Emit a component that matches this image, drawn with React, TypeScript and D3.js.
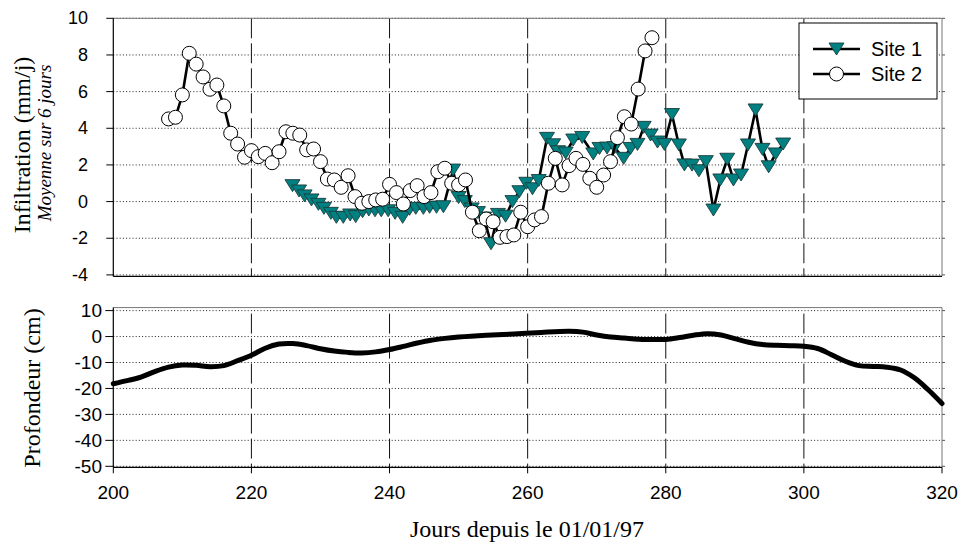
import React from "react";
import * as d3 from "d3";

// ---------- data ----------
const site1Days = [
  225.95, 226.9, 227.7, 228.7, 229.7, 230.5, 231.5, 232.3, 233.3, 234.3, 235.1, 236.1,
  237.0, 237.9, 238.8, 239.8, 240.8, 241.9, 242.9, 243.8, 244.9, 245.8, 246.8, 247.8,
  249.2, 250.0, 250.9, 251.9, 252.8, 253.7, 254.7, 255.7, 256.8, 257.8, 258.8, 259.8,
  260.7, 261.6, 262.8, 263.7, 264.4, 265.5, 266.6, 267.9, 269.5, 270.4, 271.5, 272.6,
  273.9, 274.9, 275.9, 276.8, 277.8, 278.8, 279.8, 280.9, 281.9, 282.7, 283.8, 284.8,
  285.8, 286.9, 287.9, 288.9, 289.8, 290.9, 291.9, 293.0, 294.0, 294.9, 295.9, 297.0,
];
const site1Values = [
  0.87, 0.58, 0.31, 0.09, -0.15, -0.37, -0.64, -0.86, -0.86, -0.73, -0.82, -0.55,
  -0.46, -0.5, -0.5, -0.5, -0.64, -0.86, -0.42, -0.37, -0.37, -0.31, -0.31, -0.28,
  1.72, 0.22, 0.0, -0.4, -0.6, -0.9, -2.3, -0.7, -0.8, 0.0, 0.54, 1.0,
  0.7, 1.15, 3.45, 3.1, 2.72, 2.65, 3.36, 3.5, 2.6, 2.9, 2.92, 2.95,
  2.36, 2.9, 3.12, 4.05, 3.63, 3.25, 3.12, 4.75, 3.09, 2.0, 1.99, 1.68,
  2.18, -0.46, 1.18, 2.31, 1.18, 1.45, 3.09, 5.0, 2.85, 1.9, 2.6, 3.14,
];

const site2Days = [
  208, 209, 210, 211, 212, 213, 214, 215, 216, 217, 218, 219, 220, 221, 222, 223, 224,
  225, 226, 227, 228, 229, 230, 231, 232, 233, 234, 235, 236, 237, 238, 239, 240, 241,
  242, 243, 244, 245, 246, 247, 248, 249, 250, 251, 252, 253, 254, 255, 256, 257, 258,
  259, 260, 261, 262, 263, 264, 265, 266, 267, 268, 269, 270, 271, 272, 273, 274, 275,
  276, 277, 278,
];
const site2Values = [
  4.51, 4.6, 5.82, 8.09, 7.5, 6.8, 6.13, 6.36, 5.22, 3.73, 3.14, 2.42, 2.78, 2.45, 2.63, 2.12, 2.72,
  3.81, 3.73, 3.63, 2.82, 2.87, 2.18, 1.23, 1.18, 0.78, 1.41, 0.27, -0.09, 0.0, 0.09, 0.13, 0.94, 0.49,
  -0.13, 0.6, 0.87, 0.27, 0.49, 1.63, 1.82, 1.0, 0.91, 1.18, -0.58, -1.59, -0.95, -1.1, -1.95, -1.91, -1.82,
  -0.58, -1.37, -1.0, -0.82, 1.0, 2.36, 0.91, 1.96, 2.36, 2.03, 1.27, 0.78, 1.45, 2.18, 3.49, 4.63, 4.23,
  6.14, 8.22, 8.94,
];

const depthDays = [
  200, 202, 204, 206, 208, 210, 212, 214, 216, 218, 220, 222, 224, 226, 228, 230, 232, 234,
  236, 238, 240, 242, 244, 246, 248, 250, 254, 258, 262, 266, 268, 270, 272, 274, 276, 278,
  280, 282, 284, 286, 288, 290, 292, 294, 296, 298, 300, 302, 304, 306, 308, 310, 312, 314,
  316, 318, 320,
];
const depthValues = [
  -18.2, -17.0, -15.6, -13.5, -11.8, -11.0, -11.1, -11.6, -11.2, -9.3, -7.2, -4.5, -2.9, -2.7, -3.5, -4.7, -5.6, -6.1,
  -6.3, -5.9, -5.0, -3.8, -2.5, -1.4, -0.7, -0.2, 0.5, 1.0, 1.6, 2.0, 1.7, 0.6, -0.2, -0.6, -1.0, -1.1,
  -1.1, -0.4, 0.5, 1.1, 0.6, -0.8, -2.2, -3.1, -3.4, -3.5, -3.7, -4.6, -7.0, -9.5, -11.2, -11.5, -11.8, -12.9,
  -15.9, -20.5, -25.8,
];

const xTicks = [200, 220, 240, 260, 280, 300, 320];
const infTicks = [-4, -2, 0, 2, 4, 6, 8, 10];
const depthTicks = [10, 0, -10, -20, -30, -40, -50];
const seriesNames = ["Site 1", "Site 2"];

// ---------- layout ----------
const W = 961;
const H = 545;
const X0 = 113.3;
const X1 = 942;
const TOP0 = 18.3;
const TOP1 = 274.9;
const BOT0 = 310.6;
const BOT1 = 466.3;

const SANS = "'Liberation Sans', Arial, sans-serif";
const SERIF = "'Liberation Serif', 'Times New Roman', serif";
const TEAL = "#008080";

function tri(cx: number, cy: number) {
  return `M${cx - 7.5},${cy - 6}L${cx + 7.5},${cy - 6}L${cx},${cy + 6}Z`;
}

export default function App() {
  const x = d3.scaleLinear().domain([200, 320]).range([X0, X1]);
  const yI = d3.scaleLinear().domain([-4, 10]).range([TOP1, TOP0]);
  const yD = d3.scaleLinear().domain([-50, 10]).range([BOT1, BOT0]);

  const s1 = site1Days.map((d, i) => [x(d), yI(site1Values[i])] as [number, number]);
  const s2 = site2Days.map((d, i) => [x(d), yI(site2Values[i])] as [number, number]);
  const line = d3.line();
  const depthLine = d3
    .line<number>()
    .x((d, i) => x(depthDays[i]))
    .y((d) => yD(d))
    .curve(d3.curveCatmullRom.alpha(0.5));

  const vDays = xTicks.filter((t) => t > 200 && t < 320);

  return (
    <svg
      width={W}
      height={H}
      style={{ position: "absolute", left: 0, top: 0, background: "#fff" }}
    >
      <rect x={0} y={0} width={W} height={H} fill="#fff" />

      {/* ---------- TOP PANEL ---------- */}
      {infTicks.map((t) => (
        <line
          key={"gi" + t}
          x1={X0}
          x2={X1}
          y1={yI(t)}
          y2={yI(t)}
          stroke="#222"
          strokeWidth={1}
          strokeDasharray="1,2.2"
        />
      ))}
      {vDays.map((d) => (
        <line
          key={"vi" + d}
          x1={x(d)}
          x2={x(d)}
          y1={TOP0}
          y2={TOP1 + 1.5}
          stroke="#111"
          strokeWidth={1}
          strokeDasharray="20,5"
        />
      ))}
      {/* frame */}
      <line x1={X0} x2={X1} y1={TOP0} y2={TOP0} stroke="#777" strokeWidth={1} />
      <line x1={X1} x2={X1} y1={TOP0} y2={TOP1 + 1.5} stroke="#777" strokeWidth={1} />
      <line x1={X0} x2={X1} y1={TOP1 + 1.5} y2={TOP1 + 1.5} stroke="#000" strokeWidth={1.2} />
      <line x1={X0} x2={X0} y1={TOP0} y2={TOP1 + 1.5} stroke="#000" strokeWidth={1.2} />
      {infTicks.map((t) => (
        <g key={"ti" + t}>
          <line x1={X0 - 7} x2={X0} y1={yI(t)} y2={yI(t)} stroke="#000" strokeWidth={1} />
          <line x1={X1} x2={X1 + 3} y1={yI(t)} y2={yI(t)} stroke="#555" strokeWidth={1} />
          <text
            x={88}
            y={yI(t)}
            textAnchor="end"
            dominantBaseline="central"
            fontFamily={SANS}
            fontSize={18}
            fill="#000"
          >
            {t}
          </text>
        </g>
      ))}

      {/* Site 1 */}
      <path d={line(s1) || ""} fill="none" stroke="#000" strokeWidth={2.6} strokeLinejoin="round" />
      {s1.map((p, i) => (
        <path key={"m1" + i} d={tri(p[0], p[1])} fill={TEAL} stroke="#1c3c3c" strokeWidth={0.9} />
      ))}
      {/* Site 2 */}
      <path d={line(s2) || ""} fill="none" stroke="#000" strokeWidth={2.6} strokeLinejoin="round" />
      {s2.map((p, i) => (
        <circle key={"m2" + i} cx={p[0]} cy={p[1]} r={7} fill="#fff" stroke="#000" strokeWidth={1} />
      ))}

      {/* legend */}
      <g>
        <rect x={799} y={23} width={138} height={76} fill="#fff" stroke="#000" strokeWidth={1} />
        {seriesNames.map((n, i) => {
          const ly = 49 + i * 25;
          return (
            <g key={n}>
              <line x1={813} x2={860} y1={ly} y2={ly} stroke="#000" strokeWidth={2.6} />
              {i === 0 ? (
                <path d={tri(836.5, ly)} fill={TEAL} stroke="#1c3c3c" strokeWidth={0.9} />
              ) : (
                <circle cx={836.5} cy={ly} r={7} fill="#fff" stroke="#000" strokeWidth={1} />
              )}
              <text x={871} y={ly} dominantBaseline="central" fontFamily={SANS} fontSize={20} fill="#000">
                {n}
              </text>
            </g>
          );
        })}
      </g>

      {/* y title top */}
      <text
        transform={`translate(30,145) rotate(-90)`}
        textAnchor="middle"
        fontFamily={SERIF}
        fontSize={24}
        fill="#000"
      >
        Infiltration (mm/j)
      </text>
      <text
        transform={`translate(51,143) rotate(-90)`}
        textAnchor="middle"
        fontFamily={SERIF}
        fontStyle="italic"
        fontSize={19}
        fill="#000"
      >
        Moyenne sur 6 jours
      </text>

      {/* ---------- BOTTOM PANEL ---------- */}
      {depthTicks.map((t) => (
        <line
          key={"gd" + t}
          x1={X0}
          x2={X1}
          y1={yD(t)}
          y2={yD(t)}
          stroke="#222"
          strokeWidth={1}
          strokeDasharray="1,2.2"
        />
      ))}
      {vDays.map((d) => (
        <line
          key={"vd" + d}
          x1={x(d)}
          x2={x(d)}
          y1={BOT0 + 3}
          y2={BOT1 + 1}
          stroke="#111"
          strokeWidth={1}
          strokeDasharray="20,5"
        />
      ))}
      <line x1={X0} x2={X1} y1={BOT0 - 3} y2={BOT0 - 3} stroke="#777" strokeWidth={1} />
      <line x1={X1} x2={X1} y1={BOT0 - 3} y2={BOT1 + 1} stroke="#777" strokeWidth={1} />
      <line x1={X0} x2={X1} y1={BOT1 + 1} y2={BOT1 + 1} stroke="#000" strokeWidth={1.2} />
      <line x1={X0} x2={X0} y1={BOT0 - 3} y2={BOT1 + 1} stroke="#000" strokeWidth={1.2} />
      {depthTicks.map((t) => (
        <g key={"td" + t}>
          <line x1={X0 - 8} x2={X0} y1={yD(t)} y2={yD(t)} stroke="#000" strokeWidth={1} />
          <line x1={X1} x2={X1 + 3} y1={yD(t)} y2={yD(t)} stroke="#555" strokeWidth={1} />
          <text
            x={102}
            y={yD(t)}
            textAnchor="end"
            dominantBaseline="central"
            fontFamily={SANS}
            fontSize={19}
            fill="#000"
          >
            {t}
          </text>
        </g>
      ))}
      <path
        d={depthLine(depthValues) || ""}
        fill="none"
        stroke="#000"
        strokeWidth={5}
        strokeLinecap="round"
        strokeLinejoin="round"
      />

      {xTicks.map((t) => (
        <g key={"tx" + t}>
          <line x1={x(t)} x2={x(t)} y1={BOT1 + 1} y2={BOT1 + 7} stroke="#000" strokeWidth={1} />
          <text
            x={x(t)}
            y={492}
            textAnchor="middle"
            dominantBaseline="central"
            fontFamily={SANS}
            fontSize={19}
            fill="#000"
          >
            {t}
          </text>
        </g>
      ))}

      <text
        transform={`translate(40,388) rotate(-90)`}
        textAnchor="middle"
        fontFamily={SERIF}
        fontSize={24}
        fill="#000"
      >
        Profondeur (cm)
      </text>
      <text x={527} y={537} textAnchor="middle" fontFamily={SERIF} fontSize={24} fill="#000">
        Jours depuis le 01/01/97
      </text>
    </svg>
  );
}
